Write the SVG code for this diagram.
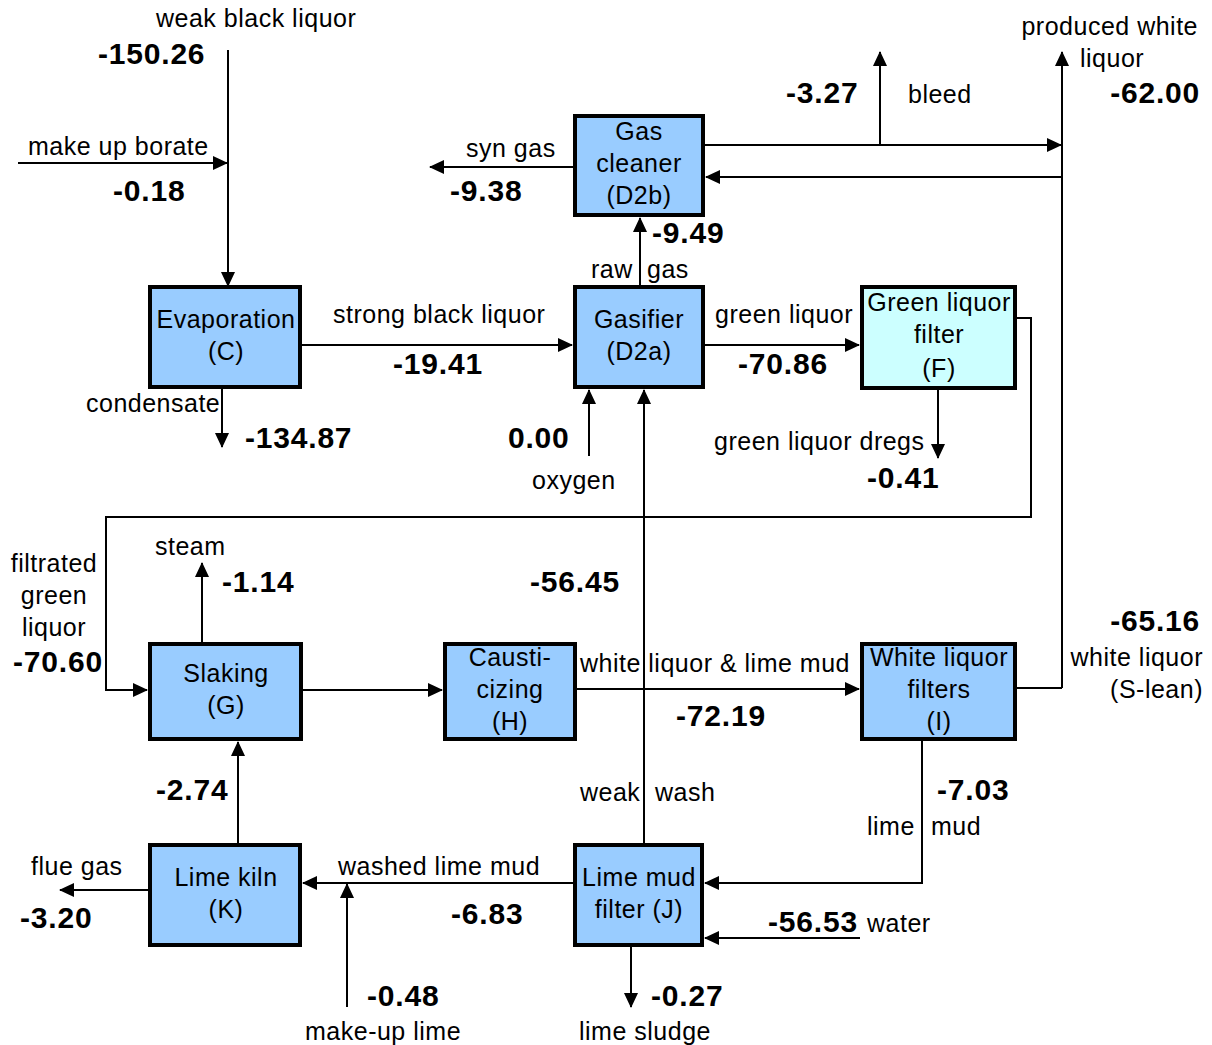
<svg xmlns="http://www.w3.org/2000/svg" width="1212" height="1045" viewBox="0 0 1212 1045">
  <style>
    .box { fill: #99ccff; stroke: #000; stroke-width: 4; }
    .box.cyan { fill: #ccffff; }
    .lbl { font-family: "Liberation Sans", Arial, sans-serif; font-size: 25px; letter-spacing: 0.5px; fill: #000; }
    .num { font-family: "Liberation Sans", Arial, sans-serif; font-size: 30px; font-weight: bold; letter-spacing: 0.8px; fill: #000; }
    .c { text-anchor: middle; }
    .e { text-anchor: end; }
    .flow line, .flow polyline { stroke: #000; stroke-width: 2; fill: none; }
    .arr { marker-end: url(#ah); }
  </style>
  <defs>
    <marker id="ah" viewBox="0 0 15 14" refX="14" refY="7" markerWidth="15" markerHeight="14" markerUnits="userSpaceOnUse" orient="auto">
      <path d="M0,0 L15,7 L0,14 z" fill="#000"/>
    </marker>
  </defs>
  <rect width="1212" height="1045" fill="#fff"/>

  <!-- connectors -->
  <g id="connectors" class="flow">
    <line class="arr" x1="228" y1="50" x2="228" y2="286"/>
    <line class="arr" x1="18" y1="163" x2="227" y2="163"/>
    <line class="arr" x1="222" y1="389" x2="222" y2="447"/>
    <line class="arr" x1="302" y1="345" x2="572" y2="345"/>
    <line class="arr" x1="640" y1="286" x2="640" y2="218"/>
    <line class="arr" x1="573" y1="167" x2="430" y2="167"/>
    <line class="arr" x1="705" y1="145" x2="1061" y2="145"/>
    <line class="arr" x1="880" y1="145" x2="880" y2="52"/>
    <line class="arr" x1="1062" y1="688" x2="1062" y2="52"/>
    <line class="arr" x1="1062" y1="177" x2="706" y2="177"/>
    <line x1="1017" y1="688" x2="1062" y2="688"/>
    <line class="arr" x1="589" y1="456" x2="589" y2="390"/>
    <line class="arr" x1="644" y1="843" x2="644" y2="390"/>
    <line class="arr" x1="705" y1="345" x2="859" y2="345"/>
    <line class="arr" x1="938" y1="390" x2="938" y2="458"/>
    <polyline class="arr" points="1017,318 1031,318 1031,517 106,517 106,690 147,690"/>
    <line class="arr" x1="202" y1="642" x2="202" y2="563"/>
    <line class="arr" x1="302" y1="690" x2="442" y2="690"/>
    <line class="arr" x1="577" y1="689" x2="859" y2="689"/>
    <polyline class="arr" points="922,741 922,883 705,883"/>
    <line class="arr" x1="860" y1="938" x2="705" y2="938"/>
    <line class="arr" x1="631" y1="947" x2="631" y2="1007"/>
    <line class="arr" x1="573" y1="883" x2="303" y2="883"/>
    <line class="arr" x1="347" y1="1007" x2="347" y2="884"/>
    <line class="arr" x1="238" y1="843" x2="238" y2="742"/>
    <line class="arr" x1="149" y1="890" x2="60" y2="890"/>
  </g>

  <!-- process units -->
  <g id="gas-cleaner">
    <rect class="box" x="575" y="116" width="128" height="99"/>
    <text class="lbl c" x="639" y="140">Gas</text>
    <text class="lbl c" x="639" y="172">cleaner</text>
    <text class="lbl c" x="639" y="204">(D2b)</text>
  </g>
  <g id="evaporation">
    <rect class="box" x="150" y="287" width="150" height="100"/>
    <text class="lbl c" x="226" y="328">Evaporation</text>
    <text class="lbl c" x="226" y="360">(C)</text>
  </g>
  <g id="gasifier">
    <rect class="box" x="575" y="287" width="128" height="100"/>
    <text class="lbl c" x="639" y="328">Gasifier</text>
    <text class="lbl c" x="639" y="360">(D2a)</text>
  </g>
  <g id="green-liquor-filter">
    <rect class="box cyan" x="862" y="287" width="153" height="101"/>
    <text class="lbl c" x="939" y="311">Green liquor</text>
    <text class="lbl c" x="939" y="343">filter</text>
    <text class="lbl c" x="939" y="377">(F)</text>
  </g>
  <g id="slaking">
    <rect class="box" x="150" y="644" width="151" height="95"/>
    <text class="lbl c" x="226" y="682">Slaking</text>
    <text class="lbl c" x="226" y="714">(G)</text>
  </g>
  <g id="causticizing">
    <rect class="box" x="445" y="644" width="130" height="95"/>
    <text class="lbl c" x="510" y="666">Causti-</text>
    <text class="lbl c" x="510" y="698">cizing</text>
    <text class="lbl c" x="510" y="730">(H)</text>
  </g>
  <g id="white-liquor-filters">
    <rect class="box" x="862" y="644" width="153" height="95"/>
    <text class="lbl c" x="939" y="666">White liquor</text>
    <text class="lbl c" x="939" y="698">filters</text>
    <text class="lbl c" x="939" y="730">(I)</text>
  </g>
  <g id="lime-kiln">
    <rect class="box" x="150" y="845" width="150" height="100"/>
    <text class="lbl c" x="226" y="886">Lime kiln</text>
    <text class="lbl c" x="226" y="918">(K)</text>
  </g>
  <g id="lime-mud-filter">
    <rect class="box" x="575" y="845" width="127" height="100"/>
    <text class="lbl c" x="639" y="886">Lime mud</text>
    <text class="lbl c" x="639" y="918">filter (J)</text>
  </g>

  <!-- stream labels and flows -->
  <g id="labels">
    <text class="lbl" x="156" y="27">weak black liquor</text>
    <text class="num" x="98" y="64">-150.26</text>
    <text class="lbl" x="28" y="155">make up borate</text>
    <text class="num" x="113" y="201">-0.18</text>
    <text class="lbl" x="466" y="157">syn gas</text>
    <text class="num" x="450" y="201">-9.38</text>
    <text class="num" x="652" y="243">-9.49</text>
    <text class="lbl" x="591" y="278">raw</text>
    <text class="lbl" x="647" y="278">gas</text>
    <text class="num" x="786" y="103">-3.27</text>
    <text class="lbl" x="908" y="103">bleed</text>
    <text class="lbl e" x="1198" y="35">produced white</text>
    <text class="lbl" x="1080" y="67">liquor</text>
    <text class="num e" x="1200" y="103">-62.00</text>
    <text class="lbl" x="333" y="323">strong black liquor</text>
    <text class="num" x="393" y="374">-19.41</text>
    <text class="lbl" x="715" y="323">green liquor</text>
    <text class="num" x="738" y="374">-70.86</text>
    <text class="lbl" x="86" y="412">condensate</text>
    <text class="num" x="245" y="448">-134.87</text>
    <text class="num" x="508" y="448">0.00</text>
    <text class="lbl" x="532" y="489">oxygen</text>
    <text class="lbl" x="714" y="450">green liquor dregs</text>
    <text class="num" x="867" y="488">-0.41</text>
    <text class="lbl c" x="54" y="572">filtrated</text>
    <text class="lbl c" x="54" y="604">green</text>
    <text class="lbl c" x="54" y="636">liquor</text>
    <text class="num" x="13" y="672">-70.60</text>
    <text class="lbl" x="155" y="555">steam</text>
    <text class="num" x="222" y="592">-1.14</text>
    <text class="num" x="530" y="592">-56.45</text>
    <text class="num e" x="1200" y="631">-65.16</text>
    <text class="lbl e" x="1203" y="666">white liquor</text>
    <text class="lbl e" x="1203" y="698">(S-lean)</text>
    <text class="lbl" x="580" y="672">white liquor &amp; lime mud</text>
    <text class="num" x="676" y="726">-72.19</text>
    <text class="num" x="156" y="800">-2.74</text>
    <text class="lbl" x="580" y="801">weak</text>
    <text class="lbl" x="655" y="801">wash</text>
    <text class="num" x="937" y="800">-7.03</text>
    <text class="lbl" x="867" y="835">lime</text>
    <text class="lbl" x="931" y="835">mud</text>
    <text class="lbl" x="31" y="875">flue gas</text>
    <text class="num" x="20" y="928">-3.20</text>
    <text class="lbl" x="338" y="875">washed lime mud</text>
    <text class="num" x="451" y="924">-6.83</text>
    <text class="num" x="768" y="932">-56.53</text>
    <text class="lbl" x="867" y="932">water</text>
    <text class="num" x="367" y="1006">-0.48</text>
    <text class="lbl" x="305" y="1040">make-up lime</text>
    <text class="num" x="651" y="1006">-0.27</text>
    <text class="lbl" x="579" y="1040">lime sludge</text>
  </g>
</svg>
